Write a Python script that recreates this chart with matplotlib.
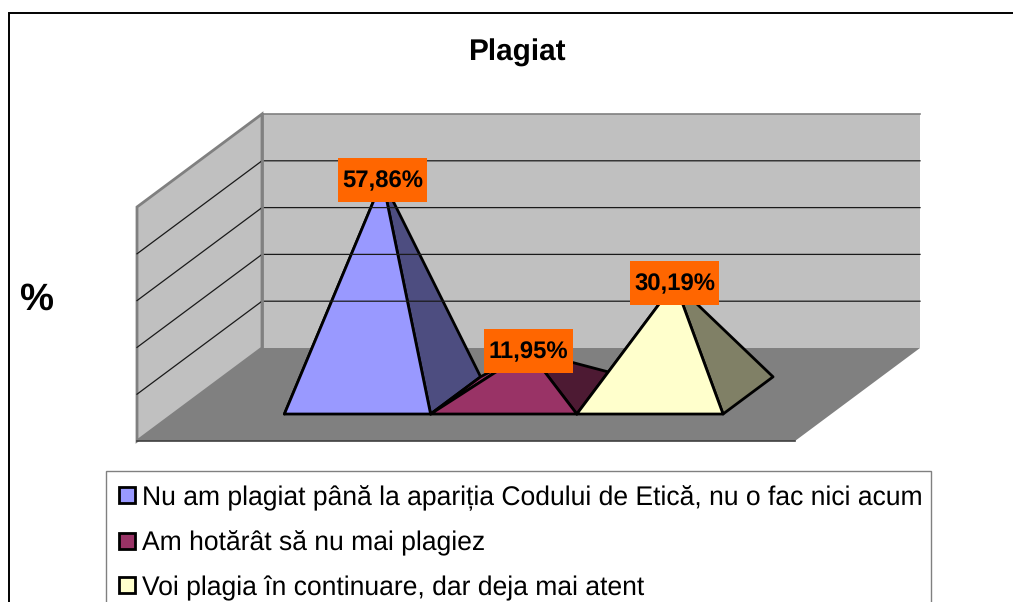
import matplotlib

matplotlib.use("Agg")

import matplotlib.pyplot as plt
from matplotlib.patches import Polygon, Rectangle

plt.rcParams["font.family"] = ["Liberation Sans", "DejaVu Sans"]
plt.rcParams["text.hinting"] = "none"

title = "Plagiat"
y_label = "%"
categories = [
    "Nu am plagiat până la apariția Codului de Etică, nu o fac nici acum",
    "Am hotărât să nu mai plagiez",
    "Voi plagia în continuare, dar deja mai atent",
]
values = [57.86, 11.95, 30.19]
y_ticks = [0, 12.56, 25.12, 37.68, 50.24, 62.8]
front_colors = ["#9999FF", "#993366", "#FFFFCC"]
side_colors = ["#4D4D80", "#4D1A33", "#808066"]

# the plot box in picture pixels, 3 bars + gaps along x, depth goes 0..1
X0, Y0 = 137, 441
X_UNIT = 658 / 4.5
Y_UNIT = 234 / y_ticks[-1]
DEPTH_X, DEPTH_Y = 125, 93


def project(x, value, depth):
    return X0 + x * X_UNIT + depth * DEPTH_X, Y0 - value * Y_UNIT - depth * DEPTH_Y


def draw_pyramid(ax, x, value, front, side):
    left, right = x, x + 1
    near, far = 0.29, 0.69
    apex = project(x + 0.5, value, (near + far) / 2)
    a = project(left, 0, near)
    b = project(right, 0, near)
    c = project(right, 0, far)
    d = project(left, 0, far)
    style = dict(edgecolor="black", linewidth=2, joinstyle="round")
    ax.add_patch(Polygon([a, d, apex], facecolor=front, **style))
    ax.add_patch(Polygon([b, c, apex], facecolor=side, **style))
    ax.add_patch(Polygon([a, b, apex], facecolor=front, **style))
    return apex


fig = plt.figure(figsize=(10.13, 6.02), dpi=100)
ax = fig.add_axes([0, 0, 1, 1])
ax.set_xlim(0, 1013)
ax.set_ylim(602, 0)
ax.axis("off")

# chart frame, runs off the right and bottom of the picture
ax.add_patch(Rectangle((8.5, 13), 1040, 640, facecolor="white", edgecolor="black", linewidth=1.4))

x_max = 4.5
top = y_ticks[-1]
wall = dict(facecolor="#C0C0C0", edgecolor="#808080", linewidth=2)
ax.add_patch(Polygon([project(0, 0, 0), project(0, top, 0), project(0, top, 1), project(0, 0, 1)], **wall))
ax.add_patch(Polygon([project(0, 0, 1), project(0, top, 1), project(x_max, top, 1), project(x_max, 0, 1)],
                     facecolor="#C0C0C0", edgecolor="none"))
ax.add_patch(Polygon([project(0, 0, 0), project(x_max, 0, 0), project(x_max, 0, 1), project(0, 0, 1)],
                     facecolor="#808080", edgecolor="none"))

for tick in y_ticks[1:-1]:
    p0, p1, p2 = project(0, tick, 0), project(0, tick, 1), project(x_max, tick, 1)
    ax.plot([p0[0], p1[0], p2[0]], [p0[1], p1[1], p2[1]], color="#1A1A1A", linewidth=0.9)

# wall edges on top of the grid
p0, p1, p2 = project(0, top, 1), project(0, 0, 1), project(x_max, top, 1)
ax.plot([p0[0], p1[0]], [p0[1], p1[1]], color="#808080", linewidth=2)
ax.plot([p0[0], p2[0]], [p0[1], p2[1]], color="#808080", linewidth=1.2)
p0, p1 = project(0, 0, 0), project(x_max, 0, 0)
ax.plot([p0[0], p1[0]], [p0[1], p1[1]], color="#404040", linewidth=1.2)

apexes = []
for i in range(len(values)):
    apexes.append(draw_pyramid(ax, 0.76 + i, values[i], front_colors[i], side_colors[i]))

for apex, value in zip(apexes, values):
    ax.add_patch(Rectangle((apex[0] - 44.5, apex[1] - 22), 89, 44, facecolor="#FF6600", edgecolor="none", zorder=5))
    ax.text(apex[0], apex[1] + 7, f"{value:.2f}%".replace(".", ","), ha="center", va="baseline",
            fontsize=17.2, fontweight="bold", color="black", zorder=6)

ax.text(517, 61, title, ha="center", va="baseline", fontsize=21.4, fontweight="bold")
ax.text(36, 310, y_label, ha="center", va="baseline", fontsize=27.5, fontweight="bold")

# legend box is cut off by the bottom of the picture
ax.add_patch(Rectangle((106, 471), 825, 180, facecolor="white", edgecolor="#808080", linewidth=1))
legend_y = [495, 541, 585]
legend_base = [505, 550, 595]
for name, color, y, base in zip(categories, front_colors, legend_y, legend_base):
    ax.add_patch(Rectangle((118.5, y - 8), 16, 16, facecolor=color, edgecolor="black", linewidth=2))
    ax.text(141.5, base, name, ha="left", va="baseline", fontsize=19.08, color="black")

fig.savefig("out.png", dpi=100)
